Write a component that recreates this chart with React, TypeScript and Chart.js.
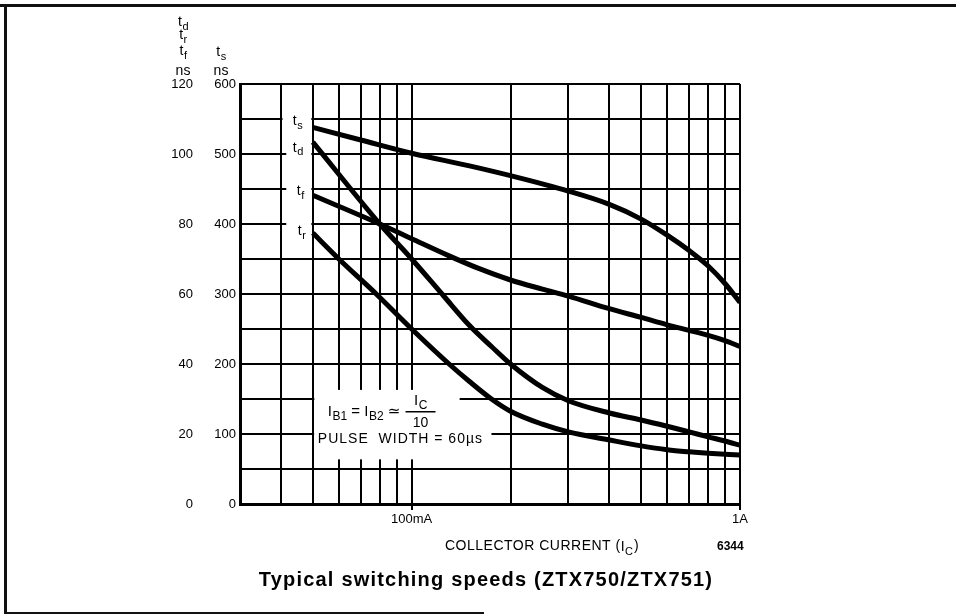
import React, { useEffect, useRef } from 'react';
import { Chart, registerables } from 'chart.js';

Chart.register(...registerables);

// ---- data (collector current in mA, times in ns) ----
const X_GRID = [30, 40, 50, 60, 70, 80, 90, 100, 200, 300, 400, 500, 600, 700, 800, 900, 1000];
const X_TICK_LABELS: Record<number, string> = { 100: '100mA', 1000: '1A' };

const TS_I = [50, 70, 100, 150, 200, 300, 400, 500, 600, 700, 800, 900, 1000];
const TS_NS = [538, 520, 501, 483, 469, 447, 428, 407, 384, 362, 340, 315, 288];

const TD_I = [50, 80, 100, 125, 150, 175, 200, 250, 300, 400, 500, 600, 700, 800, 900, 1000];
const TD_NS = [103.4, 80, 70, 59.5, 51, 45, 40, 33.3, 29.5, 26, 24, 22.2, 20.6, 19.2, 18, 16.8];

const TF_I = [50, 80, 100, 130, 160, 200, 250, 300, 400, 500, 600, 700, 800, 900, 1000];
const TF_NS = [88.2, 80, 75.8, 70.9, 67.3, 64, 61.4, 59.4, 55.8, 53.3, 51.2, 49.6, 48.2, 46.7, 45];

const TR_I = [50, 60, 78, 100, 130, 150, 175, 200, 250, 300, 400, 500, 600, 700, 800, 1000];
const TR_NS = [77.4, 70, 60, 50, 40, 35, 30, 26.5, 22.8, 20.6, 18.3, 16.6, 15.5, 14.9, 14.5, 14];

const FONT = "'Liberation Sans', Arial, 'DejaVu Sans', sans-serif";

const pts = (xs: number[], ys: number[]) => xs.map((x, i) => ({ x, y: ys[i] }));

function drawSub(ctx: CanvasRenderingContext2D, main: string, sub: string, x: number, y: number, size: number, align: 'left' | 'center' = 'left') {
  const subSize = Math.round(size * 0.78);
  ctx.font = `${size}px ${FONT}`;
  const w1 = ctx.measureText(main).width;
  ctx.font = `${subSize}px ${FONT}`;
  const w2 = ctx.measureText(sub).width;
  const x0 = align === 'center' ? x - (w1 + w2) / 2 : x;
  ctx.textAlign = 'left';
  ctx.textBaseline = 'alphabetic';
  ctx.font = `${size}px ${FONT}`;
  ctx.fillText(main, x0, y);
  ctx.font = `${subSize}px ${FONT}`;
  ctx.fillText(sub, x0 + w1 + 0.5, y + size * 0.25);
  return x0 + w1 + w2 + 0.5;
}

const decorPlugin = {
  id: 'decor',
  beforeDatasetsDraw(chart: any) {
    const { ctx } = chart;
    const x = chart.scales.x;
    const y = chart.scales.yS;
    const px = (v: number) => x.getPixelForValue(v);
    const py = (v: number) => y.getPixelForValue(v);
    ctx.save();
    ctx.fillStyle = '#fff';
    // white column for curve labels
    const r1 = px(50) - 1.5;
    ctx.fillRect(px(40) + 1.5, py(575), r1 - px(40) - 1.5, py(525) - py(575));
    ctx.fillRect(px(41.5), py(525), r1 - px(41.5), py(370) - py(525));
    // white box for the annotation
    const l2 = px(50) + 1.5;
    ctx.fillRect(l2, py(163), px(140) - l2, py(64) - py(163));
    ctx.fillRect(l2, py(125), px(175) - l2, py(64) - py(125));
    ctx.restore();
  },
  afterDraw(chart: any) {
    const { ctx } = chart;
    const x = chart.scales.x;
    const y = chart.scales.yS;
    const px = (v: number) => x.getPixelForValue(v);
    const py = (v: number) => y.getPixelForValue(v);
    ctx.save();

    // frame
    ctx.fillStyle = '#111';
    ctx.fillRect(0, 4, 956, 3);
    ctx.fillRect(4, 4, 3, 610);
    ctx.fillRect(4, 612, 480, 2);
    ctx.fillStyle = '#000';

    // axis titles (stacked)
    drawSub(ctx, 't', 'd', 183, 26, 14, 'center');
    drawSub(ctx, 't', 'r', 183, 39, 14, 'center');
    drawSub(ctx, 't', 'f', 183, 55, 14, 'center');
    ctx.font = `14px ${FONT}`;
    ctx.textAlign = 'center';
    ctx.fillText('ns', 183, 75);
    drawSub(ctx, 't', 's', 221, 56, 14, 'center');
    ctx.font = `14px ${FONT}`;
    ctx.textAlign = 'center';
    ctx.fillText('ns', 221, 75);

    // curve labels
    const lx = px(50) - 20;
    drawSub(ctx, 't', 's', lx, py(541), 14);
    drawSub(ctx, 't', 'd', lx, py(503), 14);
    drawSub(ctx, 't', 'f', lx + 4, py(441), 14);
    drawSub(ctx, 't', 'r', lx + 5, py(384), 14);

    // annotation
    const ax = px(50) + 15;
    const by = py(100) - 18;
    let cx = drawSub(ctx, 'I', 'B1', ax, by, 15);
    ctx.font = `15px ${FONT}`;
    ctx.fillText(' = ', cx, by);
    cx += ctx.measureText(' = ').width;
    cx = drawSub(ctx, 'I', 'B2', cx, by, 15);
    ctx.font = `15px ${FONT}`;
    ctx.fillText(' \u2243 ', cx, by);
    cx += ctx.measureText(' \u2243 ').width;
    const fx = cx + 16;
    drawSub(ctx, 'I', 'C', fx, by - 11, 15, 'center');
    ctx.fillRect(fx - 15, by - 5, 30, 1.5);
    ctx.font = `14px ${FONT}`;
    ctx.textAlign = 'center';
    ctx.fillText('10', fx, by + 11);
    ctx.textAlign = 'left';
    ctx.font = `14px ${FONT}`;
    (ctx as any).letterSpacing = '1px';
    ctx.fillText('PULSE  WIDTH = 60\u00b5s', px(50) + 5, py(100) + 9);
    (ctx as any).letterSpacing = '0px';

    // x-axis title & figure number
    const bottom = chart.chartArea.bottom;
    ctx.textBaseline = 'middle';
    ctx.textAlign = 'left';
    ctx.font = `14px ${FONT}`;
    (ctx as any).letterSpacing = '0.5px';
    const t1 = 'COLLECTOR CURRENT (';
    ctx.fillText(t1, 445, bottom + 42);
    let w = 445 + ctx.measureText(t1).width;
    (ctx as any).letterSpacing = '0px';
    ctx.textBaseline = 'alphabetic';
    w = drawSub(ctx, 'I', 'C', w, bottom + 47, 14);
    ctx.font = `14px ${FONT}`;
    ctx.textBaseline = 'middle';
    ctx.fillText(')', w + 1, bottom + 42);
    ctx.font = `bold 12px ${FONT}`;
    ctx.fillText('6344', 717, bottom + 43);

    // caption
    ctx.font = `bold 20px ${FONT}`;
    (ctx as any).letterSpacing = '1.2px';
    ctx.textAlign = 'center';
    ctx.fillText('Typical switching speeds (ZTX750/ZTX751)', 486, bottom + 76);
    (ctx as any).letterSpacing = '0px';
    ctx.restore();
  },
};

export default function App() {
  const ref = useRef<HTMLCanvasElement | null>(null);
  useEffect(() => {
    if (!ref.current) return;
    const line = (label: string, data: any[], axis: string) => ({
      label,
      data,
      yAxisID: axis,
      borderColor: '#000',
      backgroundColor: '#000',
      borderWidth: 5,
      pointRadius: 0,
      cubicInterpolationMode: 'monotone' as const,
      fill: false,
    });
    const chart = new Chart(ref.current, {
      type: 'line',
      data: {
        datasets: [
          line('ts', pts(TS_I, TS_NS), 'yS'),
          line('td', pts(TD_I, TD_NS), 'yN'),
          line('tf', pts(TF_I, TF_NS), 'yN'),
          line('tr', pts(TR_I, TR_NS), 'yN'),
        ],
      },
      options: {
        responsive: false,
        animation: false,
        devicePixelRatio: 1,
        layout: { padding: { left: 145, right: 216, top: 84, bottom: 82 } },
        plugins: { legend: { display: false }, tooltip: { enabled: false }, title: { display: false } },
        scales: {
          x: {
            type: 'logarithmic',
            min: 30,
            max: 1000,
            afterBuildTicks: (s: any) => {
              s.ticks = X_GRID.map((v) => ({ value: v }));
            },
            afterFit: (s: any) => {
              s.height = 30;
            },
            ticks: {
              autoSkip: false,
              maxRotation: 0,
              padding: 2,
              color: '#000',
              font: { family: FONT, size: 13 },
              callback: (v: any) => X_TICK_LABELS[Number(v)] ?? '',
            },
            grid: {
              color: '#000',
              lineWidth: 2,
              drawTicks: true,
              tickLength: 6,
              tickWidth: 2,
              tickColor: (c: any) => (c.tick && X_TICK_LABELS[c.tick.value] ? '#000' : 'rgba(0,0,0,0)'),
            },
            border: { display: true, color: '#000', width: 3 },
          },
          yS: {
            type: 'linear',
            position: 'left',
            weight: 0,
            min: 0,
            max: 600,
            afterFit: (s: any) => {
              s.width = 45;
            },
            ticks: {
              stepSize: 50,
              autoSkip: false,
              padding: 4,
              color: '#000',
              font: { family: FONT, size: 13 },
              callback: (v: any) => (Number(v) % 100 === 0 ? String(v) : ''),
            },
            grid: { color: '#000', lineWidth: 2, drawTicks: false },
            border: { display: true, color: '#000', width: 3 },
          },
          yN: {
            type: 'linear',
            position: 'left',
            weight: 1,
            min: 0,
            max: 120,
            afterFit: (s: any) => {
              s.width = 50;
            },
            ticks: {
              stepSize: 20,
              padding: 2,
              color: '#000',
              font: { family: FONT, size: 13 },
            },
            grid: { display: false, drawTicks: false },
            border: { display: false },
          },
        },
      },
      plugins: [decorPlugin],
    });
    return () => chart.destroy();
  }, []);
  return (
    <div style={{ position: 'fixed', left: 0, top: 0, width: 956, height: 616, background: '#fff' }}>
      <canvas ref={ref} width={956} height={616} />
    </div>
  );
}
